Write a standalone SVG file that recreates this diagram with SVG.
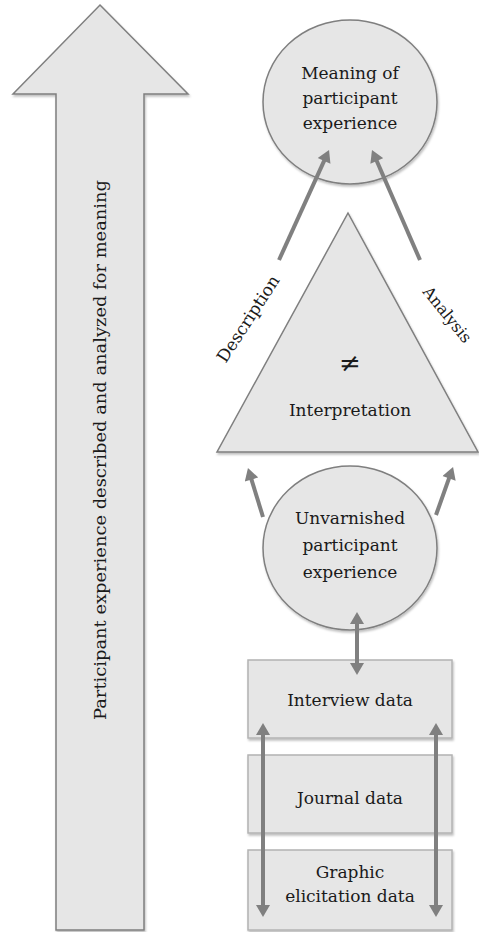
<svg xmlns="http://www.w3.org/2000/svg" width="479" height="932" viewBox="0 0 479 932">
<style>
.shape{fill:#e6e6e6;stroke:#7f7f7f;stroke-width:1.5}
.box{fill:#e6e6e6;stroke:#b3b3b3;stroke-width:1.5}
.t{font-family:"DejaVu Serif","Liberation Serif",serif;font-size:17px;fill:#1a1a1a;text-anchor:middle}
.c{stroke:#808080;stroke-width:4;fill:none}
</style>
<defs>
<marker id="ah" markerUnits="userSpaceOnUse" markerWidth="14" markerHeight="14" refX="2" refY="7" orient="auto-start-reverse" viewBox="0 0 12 14">
<path d="M0,0 L12,7 L0,14 z" fill="#808080"/>
</marker>
<filter id="sh" x="-10%" y="-10%" width="120%" height="120%">
<feDropShadow dx="1" dy="2" stdDeviation="1.2" flood-color="#000" flood-opacity="0.25"/>
</filter>
</defs>
<g id="big-arrow">
<path class="shape" filter="url(#sh)" d="M100,5 L188,94 L144,94 L144,930 L56,930 L56,94 L13,94 Z"/>
<text class="t" transform="translate(106,450) rotate(-90)" textLength="540" lengthAdjust="spacingAndGlyphs">Participant experience described and analyzed for meaning</text>
</g>
<g id="meaning">
<ellipse class="shape" filter="url(#sh)" cx="350" cy="102" rx="87" ry="82"/>
<text class="t" x="350" y="79">Meaning of</text>
<text class="t" x="350" y="104">participant</text>
<text class="t" x="350" y="129">experience</text>
</g>
<g id="interpretation">
<path class="shape" filter="url(#sh)" d="M348,213 L478,452 L217,452 Z"/>
<text class="t" x="350" y="372" style="font-size:26px">≠</text>
<text class="t" x="350" y="416">Interpretation</text>
</g>
<g id="labels">
<text class="t" transform="translate(253,322) rotate(-57)">Description</text>
<text class="t" transform="translate(443,318) rotate(51)" style="font-size:16px">Analysis</text>
</g>
<g id="unvarnished">
<ellipse class="shape" filter="url(#sh)" cx="350" cy="548" rx="87" ry="82"/>
<text class="t" x="350" y="524">Unvarnished</text>
<text class="t" x="350" y="551">participant</text>
<text class="t" x="350" y="578">experience</text>
</g>
<g id="interview">
<rect class="box" filter="url(#sh)" x="248" y="660" width="204" height="78"/>
<text class="t" x="350" y="706">Interview data</text>
</g>
<g id="journal">
<rect class="box" filter="url(#sh)" x="248" y="755" width="204" height="78"/>
<text class="t" x="350" y="804">Journal data</text>
</g>
<g id="graphic">
<rect class="box" filter="url(#sh)" x="248" y="850" width="204" height="80"/>
<text class="t" x="350" y="878">Graphic</text>
<text class="t" x="350" y="902">elicitation data</text>
</g>
<g id="connectors">
<line class="c" x1="279" y1="260" x2="324.9" y2="159.1" marker-end="url(#ah)"/>
<line class="c" x1="420" y1="260" x2="376" y2="159.2" marker-end="url(#ah)"/>
<line class="c" x1="263" y1="517" x2="250.9" y2="477.6" marker-end="url(#ah)"/>
<line class="c" x1="436" y1="515" x2="449.7" y2="476.4" marker-end="url(#ah)"/>
<line class="c" x1="357" y1="622" x2="357" y2="665" marker-start="url(#ah)" marker-end="url(#ah)"/>
<line class="c" x1="263" y1="733" x2="263" y2="907" marker-start="url(#ah)" marker-end="url(#ah)"/>
<line class="c" x1="436" y1="733" x2="436" y2="907" marker-start="url(#ah)" marker-end="url(#ah)"/>
</g>
</svg>
